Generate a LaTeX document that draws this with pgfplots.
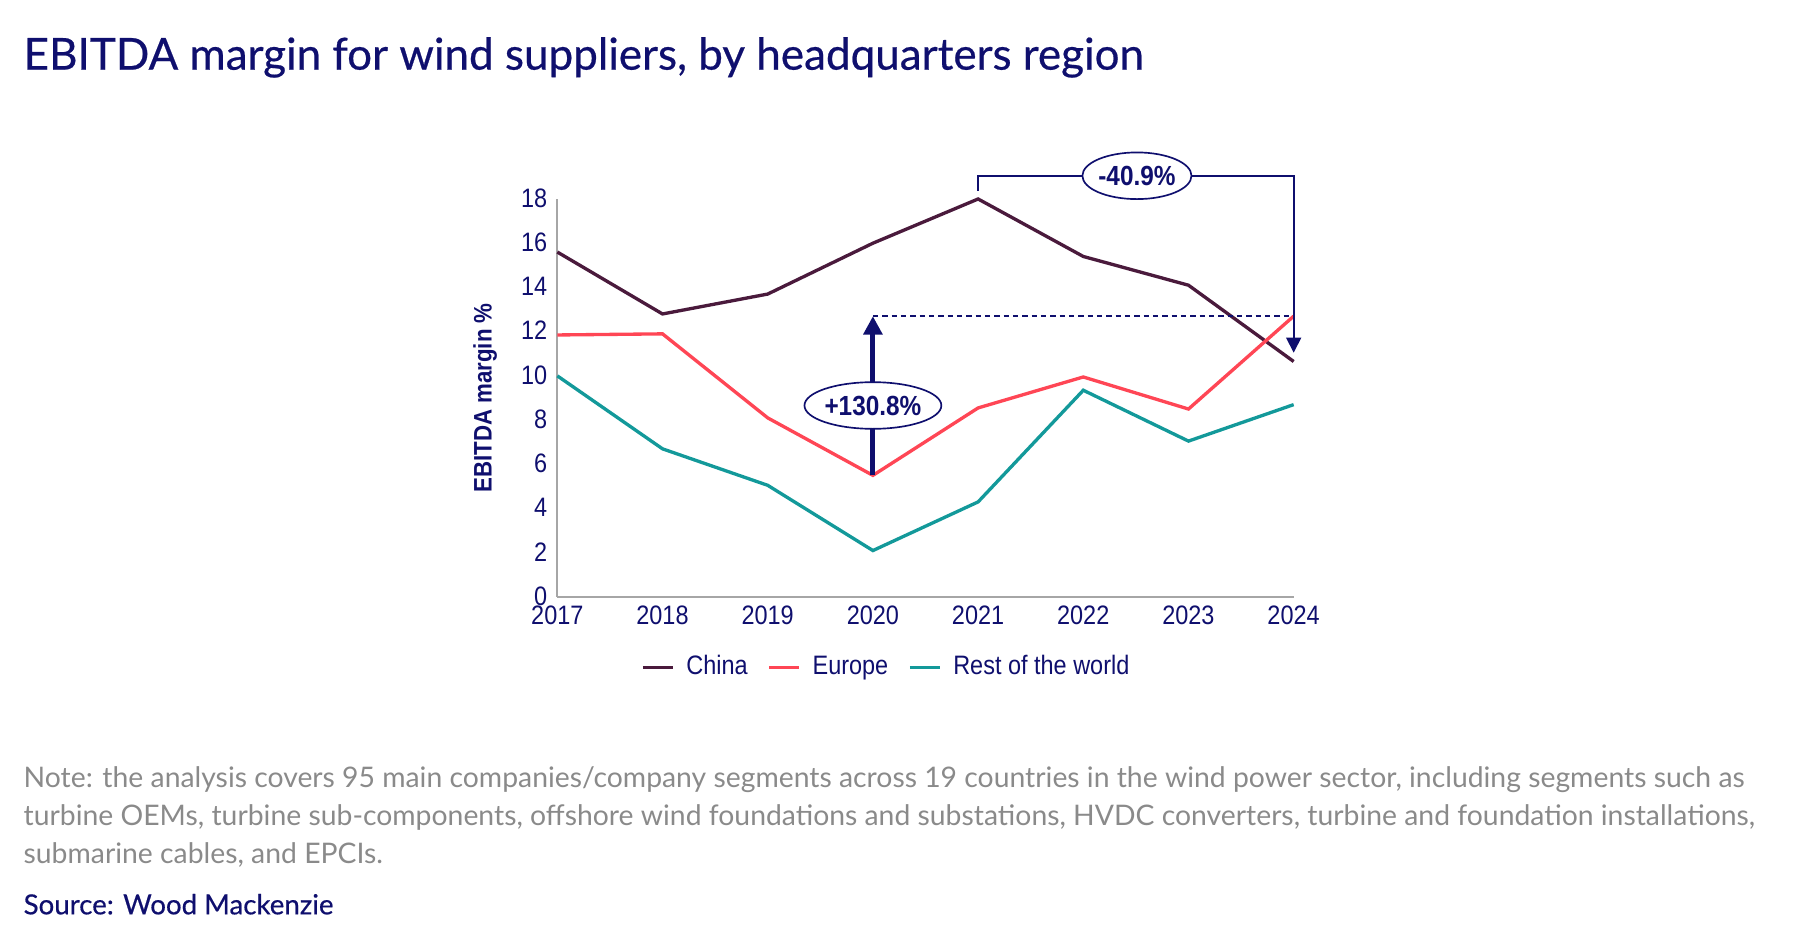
\documentclass[border=0pt]{standalone}
\usepackage{pgfplots}
\pgfplotsset{compat=1.18}
\usepackage{fontspec}
\usetikzlibrary{arrows.meta,shapes.geometric}
\setmainfont{Lato}
\newfontfamily\titlefont{Lato}[FakeBold=0.5]
\newfontfamily\chartfont{Liberation Sans}[FakeStretch=0.88]
\definecolor{navy}{HTML}{0F0F6E}
\definecolor{china}{HTML}{4A1A3C}
\definecolor{europe}{HTML}{FF4655}
\definecolor{rest}{HTML}{13999A}
\definecolor{axgray}{HTML}{A6A6A6}
\definecolor{notegray}{HTML}{8A8A8A}
\begin{document}
\begin{tikzpicture}
\path[use as bounding box] (0,0) rectangle (540pt,282.6pt);
\node[anchor=base west, text=navy, font=\titlefont\fontsize{13.2}{15}\selectfont, inner sep=0pt] at (6.9pt,261.7pt) {EBITDA margin for wind suppliers, by headquarters region};
\begin{axis}[
  at={(167.2pt,103.5pt)}, anchor=south west,
  scale only axis, width=220.9pt, height=119.4pt,
  xmin=2017, xmax=2024, ymin=0, ymax=18,
  axis x line=bottom, axis y line=left,
  axis line style={axgray, line width=0.6pt, -},
  xtick={2017,...,2024}, ytick={0,2,...,18},
  major tick length=0pt,
  /pgf/number format/1000 sep={},
  /pgf/number format/assume math mode=true,
  ticklabel style={font=\chartfont\fontsize{8}{9}\selectfont, text=navy},
  xticklabel style={yshift=1pt},
  yticklabel style={xshift=0.5pt, yshift=0.3pt},
  ylabel={EBITDA margin \%},
  ylabel style={font=\chartfont\bfseries\fontsize{7.6}{9}\selectfont, text=navy, at={(axis description cs:-0.098,0.5)}, anchor=center},
  clip=false,
  legend columns=3,
  legend style={draw=none, fill=none, at={(0.450,-0.177)}, anchor=center,
    font=\chartfont\fontsize{8}{9}\selectfont, text=navy,
    /tikz/every odd column/.append style={column sep=1.5pt},
    /tikz/every even column/.append style={column sep=4pt}},
  legend image code/.code={\draw[#1, line width=1pt] (0pt,0pt) -- (9pt,0pt);},
]
\addplot[china, line width=1pt] coordinates {(2017,15.6) (2018,12.8) (2019,13.7) (2020,16.0) (2021,18.0) (2022,15.4) (2023,14.1) (2024,10.65)};
\addlegendentry{China}
\addplot[europe, line width=1pt] coordinates {(2017,11.85) (2018,11.9) (2019,8.1) (2020,5.5) (2021,8.55) (2022,9.95) (2023,8.5) (2024,12.7)};
\addlegendentry{Europe}
\addplot[rest, line width=1pt] coordinates {(2017,10.0) (2018,6.7) (2019,5.05) (2020,2.1) (2021,4.3) (2022,9.35) (2023,7.05) (2024,8.7)};
\addlegendentry{Rest of the world}
% annotations
\draw[navy, line width=0.5pt, dash pattern=on 1.6pt off 1.2pt] (axis cs:2020,12.7) -- (axis cs:2024,12.7);
\draw[navy, line width=1.5pt, -{Triangle[width=5.5pt,length=5.5pt]}] (axis cs:2020,5.5) -- (axis cs:2020,12.7);
\node[ellipse, draw=navy, line width=0.5pt, fill=white, text=navy, minimum width=39pt, minimum height=14pt, inner sep=0pt, font=\chartfont\bfseries\fontsize{8.3}{9}\selectfont] at (axis cs:2020,8.66) {+130.8\%};
\draw[navy, line width=0.5pt, -{Triangle[width=4.5pt,length=4.5pt]}] (axis cs:2021,18.35) -- (axis cs:2021,19.05) -- (axis cs:2024,19.05) -- (axis cs:2024,11.05);
\node[ellipse, draw=navy, line width=0.5pt, fill=white, text=navy, minimum width=31pt, minimum height=14pt, inner sep=0pt, font=\chartfont\bfseries\fontsize{8.3}{9}\selectfont] at (axis cs:2022.51,19.05) {-40.9\%};
\end{axis}
\begin{scope}[every node/.style={anchor=base west, inner sep=0pt, text=notegray, font=\fontsize{8.5}{10}\selectfont}]
\node at (6.9pt,46.4pt) {Note: the analysis covers 95 main companies/company segments across 19 countries in the wind power sector, including segments such as};
\node at (6.9pt,35.0pt) {turbine OEMs, turbine sub-components, offshore wind foundations and substations, HVDC converters, turbine and foundation installations,};
\node at (6.9pt,23.5pt) {submarine cables, and EPCIs.};
\end{scope}
\node[anchor=base west, inner sep=0pt, text=navy, font=\titlefont\fontsize{8.3}{10}\selectfont] at (6.9pt,8.3pt) {Source: Wood Mackenzie};
\end{tikzpicture}
\end{document}
